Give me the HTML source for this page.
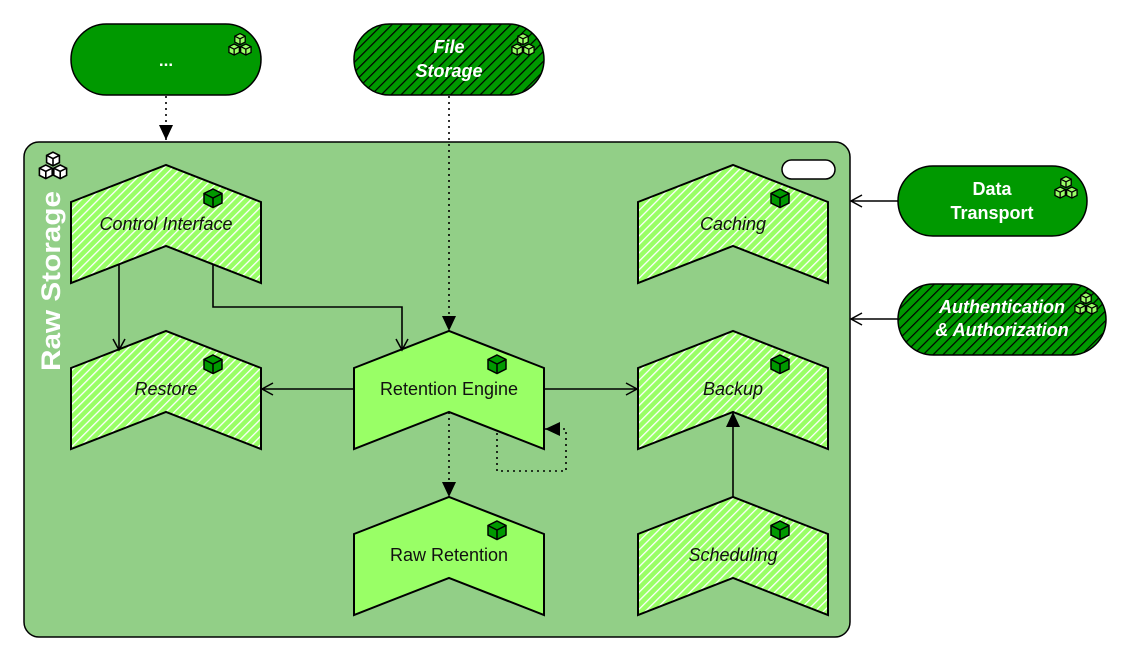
<!DOCTYPE html>
<html><head><meta charset="utf-8"><style>
html,body{margin:0;padding:0;background:#fff;width:1134px;height:661px;overflow:hidden}
text{font-family:"Liberation Sans",Arial,sans-serif}
</style></head><body>
<svg width="1134" height="661" viewBox="0 0 1134 661" xmlns="http://www.w3.org/2000/svg">
<defs>
<pattern id="lh" patternUnits="userSpaceOnUse" width="6" height="6" patternTransform="rotate(45)">
<rect width="6" height="6" fill="#99ff66"/><rect x="0" width="1.3" height="6" fill="#ffffff"/>
</pattern>
<pattern id="dh" patternUnits="userSpaceOnUse" width="7" height="7" patternTransform="rotate(45)">
<rect width="7" height="7" fill="#009900"/><rect x="0" width="1.2" height="7" fill="#000"/>
</pattern>
<g id="cube">
<path d="M0,-9 L9,-4.5 L9,5 L0,9.5 L-9,5 L-9,-4.5 Z" fill="#009900" stroke="#000" stroke-width="1.5"/>
<path d="M-9,-4.5 L0,0 L9,-4.5 M0,0 L0,9.5" fill="none" stroke="#000" stroke-width="1.5"/>
</g>
<g id="sc">
<path d="M0,-4 L4,-2 L4,2.5 L0,4.5 L-4,2.5 L-4,-2 Z" stroke="#000" stroke-width="1"/>
<path d="M-4,-2 L0,0 L4,-2 M0,0 L0,4.5" fill="none" stroke="#000" stroke-width="1"/>
</g>
<g id="cubes"><use href="#sc" x="0" y="-4"/><use href="#sc" x="-4.5" y="4"/><use href="#sc" x="4.5" y="4"/></g>
<marker id="open" markerWidth="14" markerHeight="14" refX="12" refY="7" orient="auto" markerUnits="userSpaceOnUse">
<path d="M1,1 L12,7 L1,13" fill="none" stroke="#000" stroke-width="1.5"/></marker>
<marker id="fill" markerWidth="16" markerHeight="16" refX="15" refY="8" orient="auto" markerUnits="userSpaceOnUse">
<path d="M0,1 L15,8 L0,15 Z" fill="#000"/></marker>
</defs>

<!-- container -->
<rect x="24" y="142" width="826" height="495" rx="15" fill="#92cf87" stroke="#000" stroke-width="1.5"/>
<rect x="782" y="160" width="53" height="19" rx="9.5" fill="#fff" stroke="#000" stroke-width="1.5"/>
<g fill="#fff" transform="translate(53,165) scale(1.6)"><use href="#cubes"/></g>
<text transform="translate(60,281) rotate(-90)" text-anchor="middle" font-size="27" font-weight="bold" fill="#fff" textLength="180" lengthAdjust="spacingAndGlyphs">Raw Storage</text>

<!-- pills -->
<rect x="71" y="24" width="190" height="71" rx="35.5" fill="#009900" stroke="#000" stroke-width="1.5"/>
<text x="166" y="66" text-anchor="middle" font-size="17" font-weight="bold" fill="#fff">...</text>
<g fill="#99ff66" transform="translate(240,44) scale(1.3)"><use href="#cubes"/></g>
<rect x="354" y="24" width="190" height="71" rx="35.5" fill="url(#dh)" stroke="#000" stroke-width="1.5"/>
<text x="449" y="53" text-anchor="middle" font-size="18" font-weight="bold" font-style="italic" fill="#fff">File</text>
<text x="449" y="77" text-anchor="middle" font-size="18" font-weight="bold" font-style="italic" fill="#fff">Storage</text>
<g fill="#99ff66" transform="translate(523,44) scale(1.3)"><use href="#cubes"/></g>
<rect x="898" y="166" width="189" height="70" rx="35" fill="#009900" stroke="#000" stroke-width="1.5"/>
<text x="992" y="195" text-anchor="middle" font-size="18" font-weight="bold" fill="#fff">Data</text>
<text x="992" y="219" text-anchor="middle" font-size="18" font-weight="bold" fill="#fff">Transport</text>
<g fill="#99ff66" transform="translate(1066,187) scale(1.3)"><use href="#cubes"/></g>
<rect x="898" y="284" width="208" height="71" rx="35.5" fill="url(#dh)" stroke="#000" stroke-width="1.5"/>
<text x="1002" y="313" text-anchor="middle" font-size="18" font-weight="bold" font-style="italic" fill="#fff">Authentication</text>
<text x="1002" y="336" text-anchor="middle" font-size="18" font-weight="bold" font-style="italic" fill="#fff">&amp; Authorization</text>
<g fill="#99ff66" transform="translate(1086,303) scale(1.3)"><use href="#cubes"/></g>

<!-- component shapes -->
<g stroke="#000" stroke-width="2">
<path d="M71,202 L166,165 L261,202 L261,283 L166,246 L71,283 Z" fill="url(#lh)"/>
<path d="M638,202 L733,165 L828,202 L828,283 L733,246 L638,283 Z" fill="url(#lh)"/>
<path d="M71,368 L166,331 L261,368 L261,449 L166,412 L71,449 Z" fill="url(#lh)"/>
<path d="M354,368 L449,331 L544,368 L544,449 L449,412 L354,449 Z" fill="#99ff66"/>
<path d="M638,368 L733,331 L828,368 L828,449 L733,412 L638,449 Z" fill="url(#lh)"/>
<path d="M354,534 L449,497 L544,534 L544,615 L449,578 L354,615 Z" fill="#99ff66"/>
<path d="M638,534 L733,497 L828,534 L828,615 L733,578 L638,615 Z" fill="url(#lh)"/>
</g>
<use href="#cube" x="213" y="198"/><use href="#cube" x="780" y="198"/>
<use href="#cube" x="213" y="364"/><use href="#cube" x="497" y="364"/><use href="#cube" x="780" y="364"/>
<use href="#cube" x="497" y="530"/><use href="#cube" x="780" y="530"/>
<g font-size="18" text-anchor="middle" fill="#111">
<text x="166" y="230" font-style="italic">Control Interface</text>
<text x="733" y="230" font-style="italic">Caching</text>
<text x="166" y="395" font-style="italic">Restore</text>
<text x="449" y="395">Retention Engine</text>
<text x="733" y="395" font-style="italic">Backup</text>
<text x="449" y="561">Raw Retention</text>
<text x="733" y="561" font-style="italic">Scheduling</text>
</g>

<!-- connectors -->
<g fill="none" stroke="#000" stroke-width="1.6">
<path d="M166,96 L166,140" stroke-dasharray="2,4" marker-end="url(#fill)"/>
<path d="M449,96 L449,331" stroke-dasharray="2,4" marker-end="url(#fill)"/>
<path d="M449,412 L449,497" stroke-dasharray="2,4" marker-end="url(#fill)"/>
<path d="M497,433 L497,471 L566,471 L566,429 L545,429" stroke-dasharray="2,4" marker-end="url(#fill)"/>
<path d="M119,265 L119,350" marker-end="url(#open)"/>
<path d="M213,265 L213,307 L402,307 L402,350" marker-end="url(#open)"/>
<path d="M354,389 L262,389" marker-end="url(#open)"/>
<path d="M544,389 L637,389" marker-end="url(#open)"/>
<path d="M733,497 L733,412" marker-end="url(#fill)"/>
<path d="M898,201 L851,201" marker-end="url(#open)"/>
<path d="M898,319 L851,319" marker-end="url(#open)"/>
</g>
</svg>
</body></html>
